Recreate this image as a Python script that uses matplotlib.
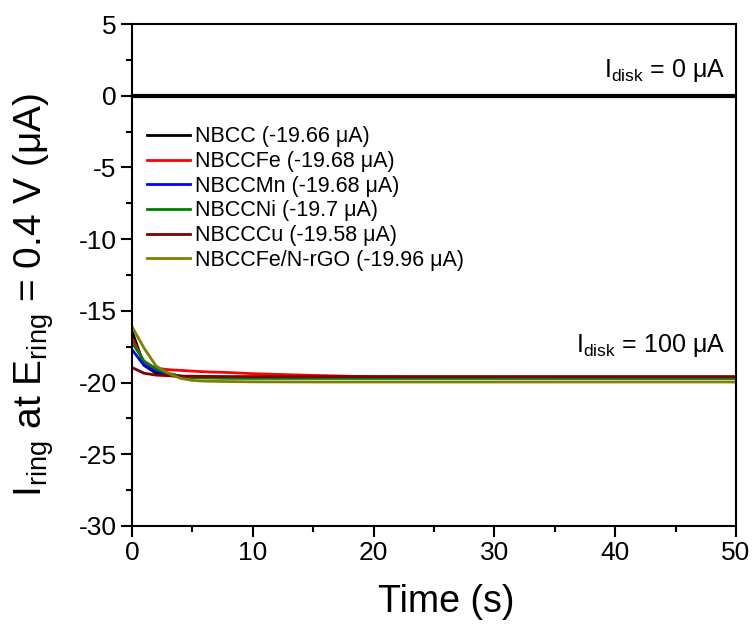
import matplotlib.pyplot as plt
from matplotlib.ticker import MultipleLocator

plt.rcParams['font.family'] = ['Liberation Sans', 'DejaVu Sans']
plt.rcParams['mathtext.fontset'] = 'custom'
plt.rcParams['mathtext.rm'] = 'Liberation Sans'
plt.rcParams['mathtext.it'] = 'Liberation Sans:italic'
plt.rcParams['axes.unicode_minus'] = False

# time (s) and ring current (uA)
time = [0, 1, 2, 3, 4, 5, 6, 8, 10, 15, 20, 30, 40, 50]
nbcc = [-16.4, -18.8, -19.35, -19.5, -19.58, -19.62, -19.64, -19.65, -19.66, -19.66, -19.66, -19.66, -19.66, -19.66]
nbccfe = [-16.9, -18.6, -19.0, -19.1, -19.15, -19.2, -19.25, -19.3, -19.38, -19.5, -19.6, -19.66, -19.68, -19.68]
nbccmn = [-17.7, -18.8, -19.2, -19.4, -19.55, -19.62, -19.65, -19.67, -19.68, -19.68, -19.68, -19.68, -19.68, -19.68]
nbccni = [-17.2, -18.5, -19.05, -19.35, -19.55, -19.65, -19.68, -19.7, -19.7, -19.7, -19.7, -19.7, -19.7, -19.7]
nbcccu = [-18.95, -19.35, -19.48, -19.52, -19.55, -19.56, -19.57, -19.58, -19.58, -19.58, -19.58, -19.58, -19.58, -19.58]
nbccfe_rgo = [-16.1, -17.6, -18.85, -19.35, -19.7, -19.85, -19.9, -19.93, -19.95, -19.96, -19.96, -19.96, -19.96, -19.96]

series = [
    ('NBCC (-19.66 μA)', nbcc, 'black'),
    ('NBCCFe (-19.68 μA)', nbccfe, 'red'),
    ('NBCCMn (-19.68 μA)', nbccmn, 'blue'),
    ('NBCCNi (-19.7 μA)', nbccni, 'green'),
    ('NBCCCu (-19.58 μA)', nbcccu, '#800000'),
    ('NBCCFe/N-rGO (-19.96 μA)', nbccfe_rgo, '#808000'),
]

fig = plt.figure(figsize=(7.55, 6.27), dpi=100)
ax = fig.add_axes([0.1748, 0.1611, 0.8, 0.8006])

ax.plot([0, 50], [0, 0], color='black', lw=3)
for label, vals, col in series:
    ax.plot(time, vals, color=col, lw=2, label=label)

ax.set_xlim(0, 50)
ax.set_ylim(-30, 5)
ax.xaxis.set_major_locator(MultipleLocator(10))
ax.xaxis.set_minor_locator(MultipleLocator(5))
ax.yaxis.set_major_locator(MultipleLocator(5))
ax.yaxis.set_minor_locator(MultipleLocator(2.5))
ax.tick_params(which='major', direction='out', length=8, width=1.5, labelsize=19, pad=3)
ax.tick_params(which='minor', direction='out', length=4, width=1.5)
for sp in ax.spines.values():
    sp.set_linewidth(1.5)

ax.set_xlabel('Time (s)', fontsize=27)
ax.set_ylabel(r'I$_{\mathrm{ring}}$ at E$_{\mathrm{ring}}$ = 0.4 V (μA)', fontsize=28)
ax.xaxis.set_label_coords(0.52, -0.115)
ax.yaxis.set_label_coords(-0.125, 0.46)

ax.text(49.1, 1.3, r'I$_{\mathrm{disk}}$ = 0 μA', fontsize=18, ha='right', va='baseline')
ax.text(49.1, -17.9, r'I$_{\mathrm{disk}}$ = 100 μA', fontsize=18, ha='right', va='baseline')

ax.legend(loc='upper left', bbox_to_anchor=(0.0, 0.826), frameon=False, fontsize=15.5,
          handlelength=2.0, handletextpad=0.25, labelspacing=0.17, borderaxespad=0.3)

fig.savefig('out.png', dpi=100)
